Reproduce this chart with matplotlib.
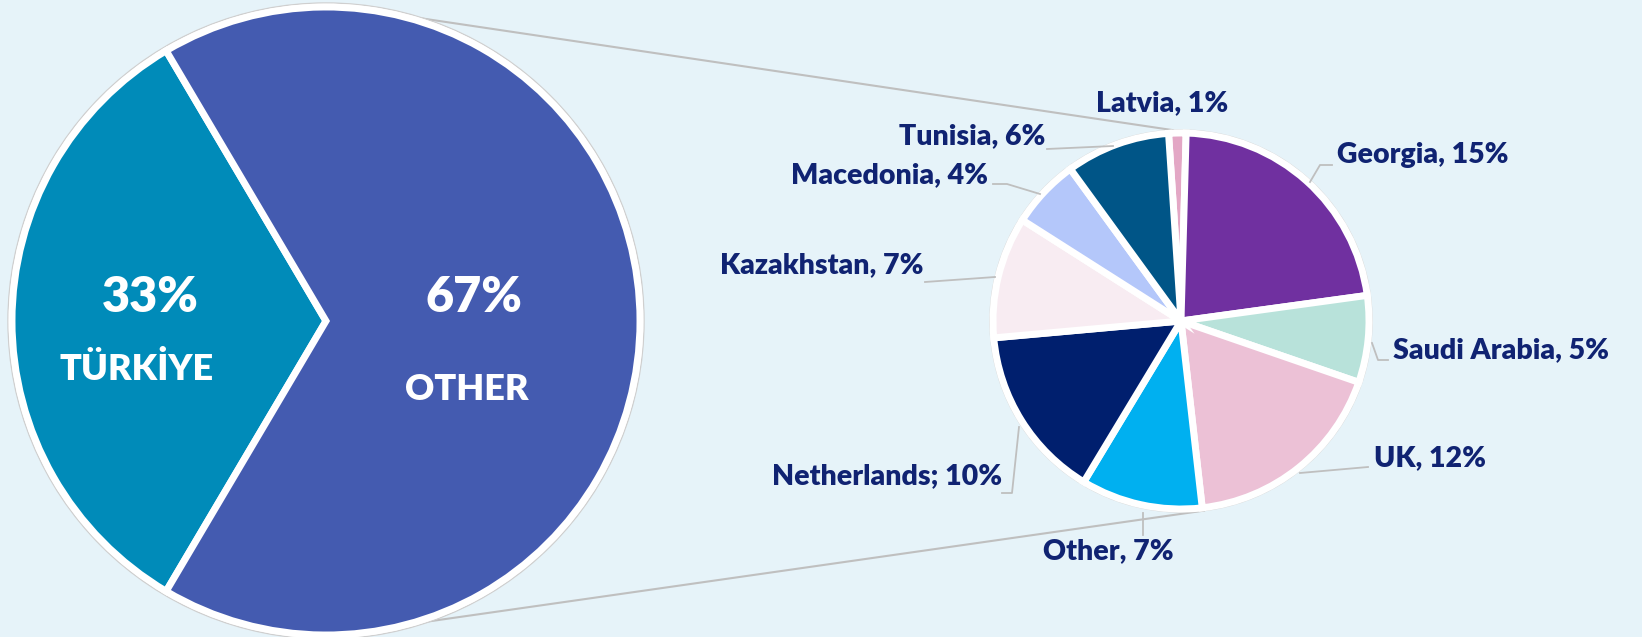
import matplotlib
matplotlib.use('Agg')
import matplotlib.pyplot as plt
from matplotlib.patches import Circle
import numpy as np

plt.rcParams['font.family'] = ['Lato', 'DejaVu Sans']

# main split
main_labels = ['TÜRKİYE', 'OTHER']
main_values = [33, 67]
main_colors = ['#008BB9', '#445BB0']

# breakdown of "Other" (share of total, %)
sub_labels = ['Latvia', 'Georgia', 'Saudi Arabia', 'UK', 'Other',
              'Netherlands', 'Kazakhstan', 'Macedonia', 'Tunisia']
sub_values = [1, 15, 5, 12, 7, 10, 7, 4, 6]
sub_colors = ['#E3A7C5', '#7030A0', '#B8E2DA', '#ECC1D6', '#00B0F0',
              '#001F6E', '#F8ECF2', '#B4C7FA', '#005587']
sub_sep = [', ', ', ', ', ', ', ', ', ', '; ', ', ', ', ', ', ']

W, H = 1642, 637
BG = '#E6F3F9'
NAVY = '#102372'
GREY = '#BFBFBF'


def P(x, y):
    # image pixel coords -> data coords
    return x, H - y


fig = plt.figure(figsize=(W / 100, H / 100), dpi=100)
fig.patch.set_facecolor(BG)
ax = fig.add_axes([0, 0, 1, 1])
ax.set_facecolor(BG)

# big pie
c1, r1 = P(326, 321), 314
start1 = 180 - main_values[0] / sum(main_values) * 360 / 2
ax.add_patch(Circle(c1, r1 + 4, facecolor='white', edgecolor='#CFCFCF', lw=1, zorder=1))
ax.pie(main_values, colors=main_colors, center=c1, radius=r1, startangle=start1,
       wedgeprops=dict(edgecolor='white', linewidth=5, zorder=2), frame=True)

# small pie
c2, r2 = P(1181, 321), 188
ax.add_patch(Circle(c2, r2 + 3, facecolor='white', edgecolor='#D5D5D5', lw=1, zorder=1))
ax.pie(sub_values, colors=sub_colors, center=c2, radius=r2, startangle=93.8,
       counterclock=False,
       wedgeprops=dict(edgecolor='white', linewidth=5, zorder=2), frame=True)
ax.set_xlim(0, W)
ax.set_ylim(0, H)
ax.set_aspect('equal')
ax.axis('off')

# connector lines between the pies
for a1, a2 in [(72.9, 92.4), (-71.6, -83.1)]:
    p1 = (c1[0] + (r1 + 3) * np.cos(np.radians(a1)), c1[1] + (r1 + 3) * np.sin(np.radians(a1)))
    p2 = (c2[0] + (r2 + 3) * np.cos(np.radians(a2)), c2[1] + (r2 + 3) * np.sin(np.radians(a2)))
    ax.plot([p1[0], p2[0]], [p1[1], p2[1]], color=GREY, lw=1.5, zorder=0.5)

# big pie labels
big_pos = [(150, 298, 137, 369), (474, 298, 467, 389)]
for (px, py, lx, ly), lab, v in zip(big_pos, main_labels, main_values):
    ax.text(*P(px, py), f'{v}%', color='white', fontsize=35, fontweight='heavy',
            ha='center', va='center', zorder=5)
    ax.text(*P(lx, ly), lab, color='white', fontsize=26, fontweight='heavy',
            ha='center', va='center', zorder=5)

# small pie labels (anchor x, y, ha)
lab_pos = [(1162, 103, 'center'), (1337, 155, 'left'), (1393, 350, 'left'),
           (1374, 458, 'left'), (1108, 551, 'center'), (1002, 476, 'right'),
           (923, 265, 'right'), (988, 175, 'right'), (1045, 136, 'right')]
for (x, y, ha), lab, sep, v in zip(lab_pos, sub_labels, sub_sep, sub_values):
    ax.text(*P(x, y), f'{lab}{sep}{v}%', color=NAVY, fontsize=20.5, fontweight='heavy',
            ha=ha, va='center', zorder=5)

# leader lines
leaders = [
    [(1310, 182), (1320, 165), (1332, 165)],
    [(1372, 343), (1378, 360), (1388, 360)],
    [(1300, 473), (1368, 467)],
    [(1143, 513), (1143, 535)],
    [(1019, 427), (1012, 493), (1002, 493)],
    [(995, 277), (925, 282)],
    [(1040, 194), (1007, 184), (993, 184)],
    [(1113, 146), (1047, 149)],
]
for pts in leaders:
    xs, ys = zip(*[P(x, y) for x, y in pts])
    ax.plot(xs, ys, color=GREY, lw=1.3, zorder=3)

fig.savefig('out.png', dpi=100, facecolor=BG)
